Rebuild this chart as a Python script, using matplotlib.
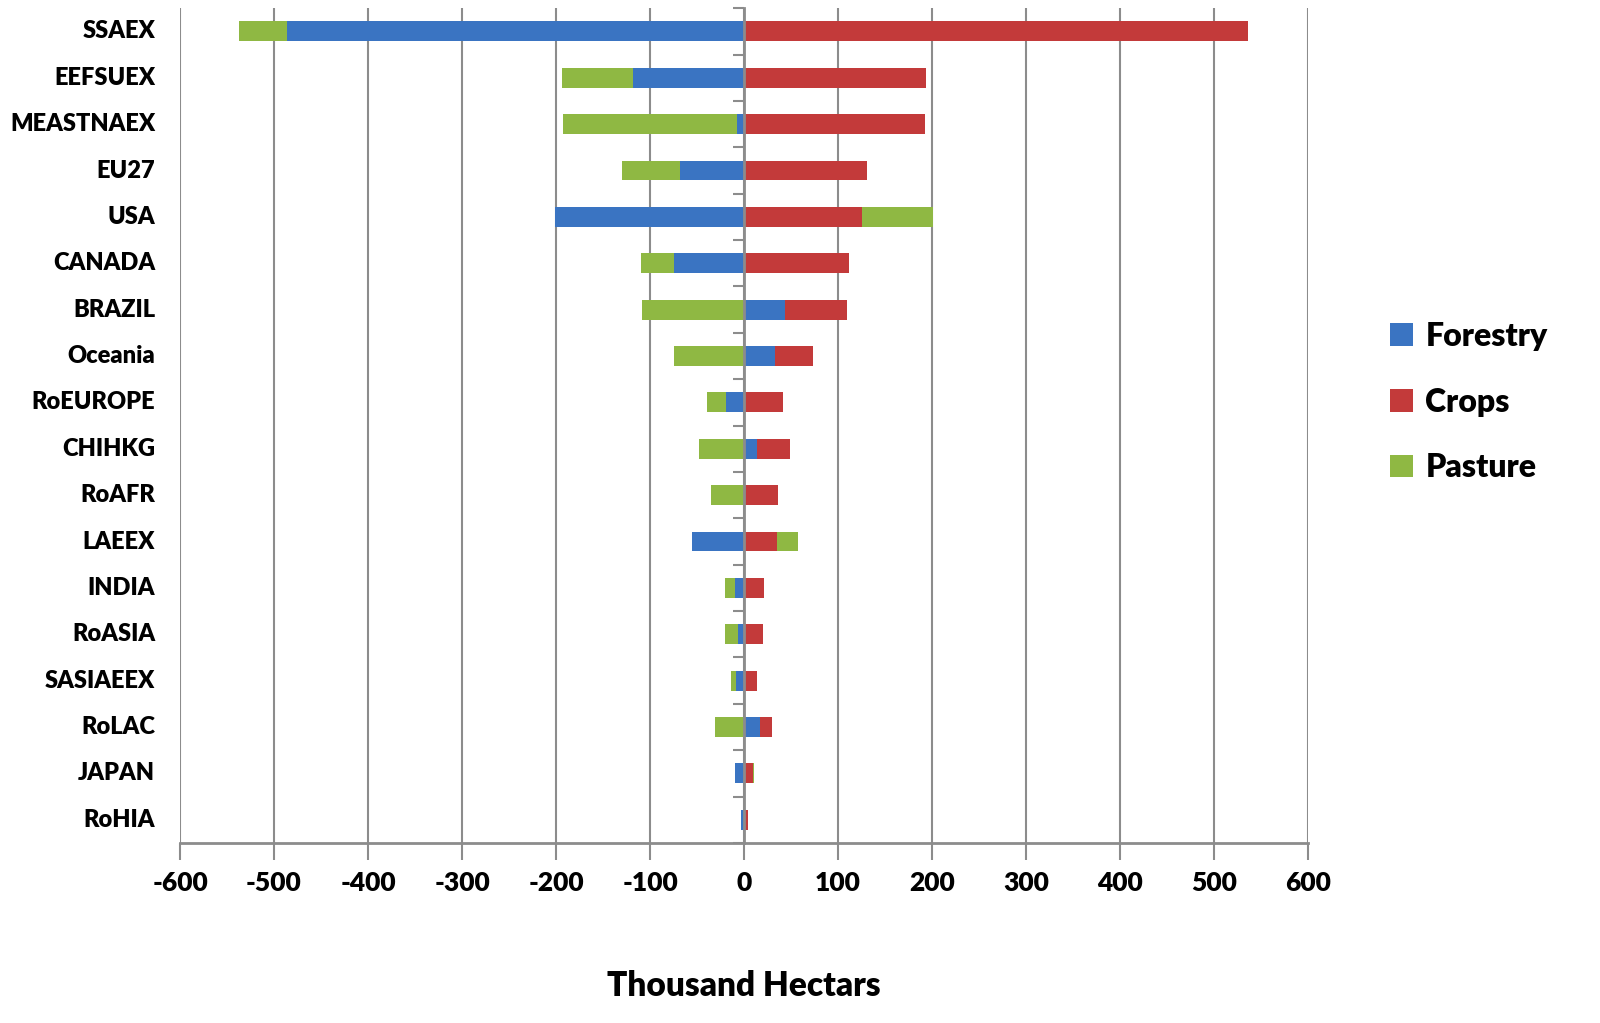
import matplotlib
matplotlib.use('agg')
import matplotlib.pyplot as plt
import numpy as np

# land use change by region, thousand hectares
regions = ['SSAEX', 'EEFSUEX', 'MEASTNAEX', 'EU27', 'USA', 'CANADA', 'BRAZIL',
           'Oceania', 'RoEUROPE', 'CHIHKG', 'RoAFR', 'LAEEX', 'INDIA', 'RoASIA',
           'SASIAEEX', 'RoLAC', 'JAPAN', 'RoHIA']
forestry = [-486, -118, -7, -68, -201, -75, 44, 33, -19.5, 13.5, 0, -55,
            -10, -6, -9, 17.5, -10, -3]
crops = [536, 194, 193, 131, 126, 111.5, 66, 40, 41, 35, 36, 35,
         21, 20, 13.5, 12.5, 10, 4]
pasture = [-51, -75.5, -186, -62, 75, -35, -109, -74, -20, -48, -35.5, 22,
           -10, -14, -4.5, -30.5, 0.5, 0]
series = [('Forestry', forestry, '#3a74c2'),
          ('Crops', crops, '#c33a3a'),
          ('Pasture', pasture, '#8fb843')]
xticks = np.arange(-600, 601, 100)

plt.rcParams['font.family'] = ['Lato', 'DejaVu Sans']
plt.rcParams['font.weight'] = 'heavy'

fig = plt.figure(figsize=(16, 10.23), dpi=100)
ax = fig.add_axes([0.1125, 0.176, 0.705, 0.816])

y = np.arange(len(regions))
pos_base = np.zeros(len(regions))
neg_base = np.zeros(len(regions))
for name, vals, color in series:
    v = np.array(vals, dtype=float)
    left = np.where(v >= 0, pos_base, neg_base)
    ax.barh(y, v, left=left, height=0.43, color=color, label=name, zorder=3)
    pos_base += np.clip(v, 0, None)
    neg_base += np.clip(v, None, 0)

ax.set_xlim(-600, 600)
ax.set_ylim(len(regions) - 0.5, -0.5)
ax.set_xticks(xticks)
ax.set_xticklabels([str(t) for t in xticks], fontsize=19, fontweight='heavy')
ax.tick_params(axis='x', length=12, width=1.5, color='#8c8c8c', pad=8)

grey = '#8c8c8c'
for t in xticks:
    ax.axvline(t, color=grey, lw=1.5, zorder=1)

for s in ['top', 'right']:
    ax.spines[s].set_visible(False)
ax.spines['bottom'].set_color(grey)
ax.spines['bottom'].set_linewidth(2)
ax.spines['left'].set_position(('data', 0))
ax.spines['left'].set_color(grey)
ax.spines['left'].set_linewidth(2)
ax.spines['left'].set_zorder(4)

ax.set_yticks(y)
ax.set_yticklabels([])
ax.tick_params(axis='y', which='major', length=0)
ax.set_yticks(np.arange(len(regions) + 1) - 0.5, minor=True)
ax.tick_params(axis='y', which='minor', length=8, width=1.5, color=grey)

trans = matplotlib.transforms.blended_transform_factory(ax.transAxes, ax.transData)
for yi, name in zip(y, regions):
    ax.text(-0.022, yi, name, transform=trans, ha='right', va='center',
            fontsize=17, fontweight='heavy')

ax.set_xlabel('Thousand Hectars', fontsize=24, fontweight='heavy', labelpad=54)

fig.legend(loc='center left', bbox_to_anchor=(0.851, 0.607), frameon=False,
           handlelength=0.7, handleheight=0.7, handletextpad=0.4,
           labelspacing=1.15, prop={'weight': 'heavy', 'size': 23})

fig.savefig('out.png', dpi=100)
